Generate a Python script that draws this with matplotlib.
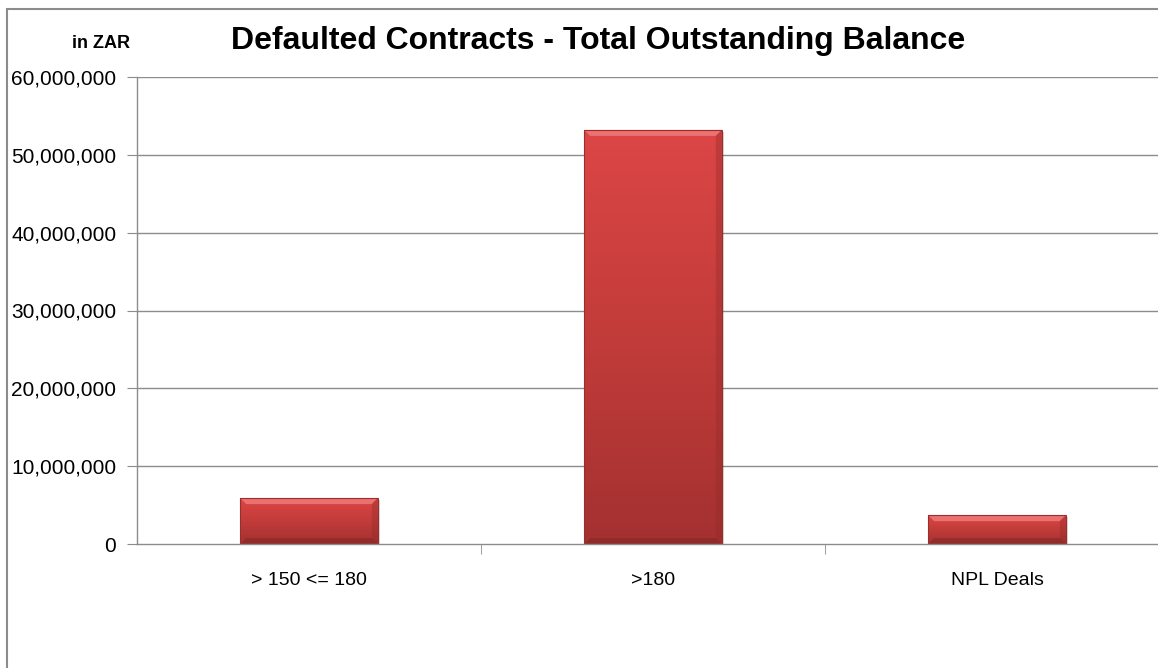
import matplotlib
matplotlib.use("Agg")
import matplotlib.pyplot as plt
import numpy as np
from matplotlib.patches import Rectangle, Polygon
from matplotlib.ticker import FuncFormatter, FixedLocator
from matplotlib.colors import LinearSegmentedColormap

categories = ["> 150 <= 180", ">180", "NPL Deals"]
values = [5_900_000, 53_200_000, 3_700_000]
y_ticks = [0, 10_000_000, 20_000_000, 30_000_000, 40_000_000, 50_000_000, 60_000_000]
title = "Defaulted Contracts - Total Outstanding Balance"
unit_label = "in ZAR"

plt.rcParams['font.family'] = ['Liberation Sans', 'DejaVu Sans']

W, H = 1158, 668
fig = plt.figure(figsize=(W / 100, H / 100), dpi=100)

# outer chart border (cropped on right and bottom)
fig.patches.append(Rectangle((7 / W, -0.1), 1.2, 1 - 9 / H + 0.1, transform=fig.transFigure,
                             fill=False, edgecolor="#8c8c8c", linewidth=1.5))

ax = fig.add_axes([137 / W, 1 - 544 / H, 1032 / W, 467 / H])
x = np.arange(len(categories))
ax.set_xlim(-0.5, len(categories) - 0.5)
ax.set_ylim(0, 60_000_000)

grid_c = "#8c8c8c"
for t in y_ticks[1:]:
    ax.axhline(t, color=grid_c, linewidth=1.0, zorder=1)

cmap = LinearSegmentedColormap.from_list("barred", ["#a33130", "#c23c3a", "#dc4646"])
grad = np.linspace(0, 1, 256).reshape(-1, 1)
bw = 0.4
bars = ax.bar(x, values, width=bw, color="#cc4040", edgecolor="none", zorder=2)
# convert pixel bevel size to data units
px_x = (len(categories)) / 1032.0
px_y = 60_000_000 / 467.0
for b in bars:
    x0, y0 = b.get_x(), b.get_y()
    w, h = b.get_width(), b.get_height()
    # soft shadow
    ax.add_patch(Rectangle((x0 + 2 * px_x, y0), w, h - 2 * px_y, facecolor="#000000",
                           alpha=0.15, edgecolor="none", zorder=2))
    im = ax.imshow(grad, cmap=cmap, aspect="auto", origin="lower",
                   extent=[x0, x0 + w, y0, y0 + h], zorder=3)
    im.set_clip_path(b)
    bev = 6
    # top bevel highlight
    ax.add_patch(Polygon([(x0, y0 + h), (x0 + w, y0 + h),
                          (x0 + w - bev * px_x, y0 + h - bev * px_y),
                          (x0 + bev * px_x, y0 + h - bev * px_y)],
                         closed=True, facecolor="#ee7676", edgecolor="none", alpha=0.9, zorder=4))
    # left / right bevel darker
    ax.add_patch(Polygon([(x0 + w, y0 + h), (x0 + w, y0),
                          (x0 + w - bev * px_x, y0 + bev * px_y),
                          (x0 + w - bev * px_x, y0 + h - bev * px_y)],
                         closed=True, facecolor="#8f2a28", edgecolor="none", alpha=0.35, zorder=4))
    ax.add_patch(Polygon([(x0, y0), (x0 + w, y0),
                          (x0 + w - bev * px_x, y0 + bev * px_y),
                          (x0 + bev * px_x, y0 + bev * px_y)],
                         closed=True, facecolor="#7d2422", edgecolor="none", alpha=0.45, zorder=4))
    ax.add_patch(Rectangle((x0, y0), w, h, fill=False, edgecolor="#9a2e2c",
                           linewidth=0.8, zorder=5))

ax.set_xlim(-0.5, len(categories) - 0.5)
ax.set_ylim(0, 60_000_000)

for s in ["top", "right"]:
    ax.spines[s].set_visible(False)
for s in ["left", "bottom"]:
    ax.spines[s].set_color(grid_c)
    ax.spines[s].set_linewidth(1.0)
    ax.spines[s].set_zorder(6)

ax.yaxis.set_major_locator(FixedLocator(y_ticks))
ax.yaxis.set_major_formatter(FuncFormatter(lambda v, p: f"{int(v):,}"))
ax.tick_params(axis="y", length=7, color=grid_c, labelsize=15, pad=8, labelcolor="black")

ax.set_xticks(x)
ax.set_xticklabels(categories)
ax.tick_params(axis="x", length=0, labelsize=14, pad=20, labelcolor="black")
ax.set_xticks([0.5, 1.5, 2.5], minor=True)
ax.tick_params(axis="x", which="minor", length=7, color=grid_c)

fig.text(598 / W, 1 - 41 / H, title, ha="center", va="center",
         fontsize=23, fontweight="bold")
fig.text(101 / W, 1 - 44 / H, unit_label, ha="center", va="center",
         fontsize=13, fontweight="bold")

fig.savefig("out.png", dpi=100)
